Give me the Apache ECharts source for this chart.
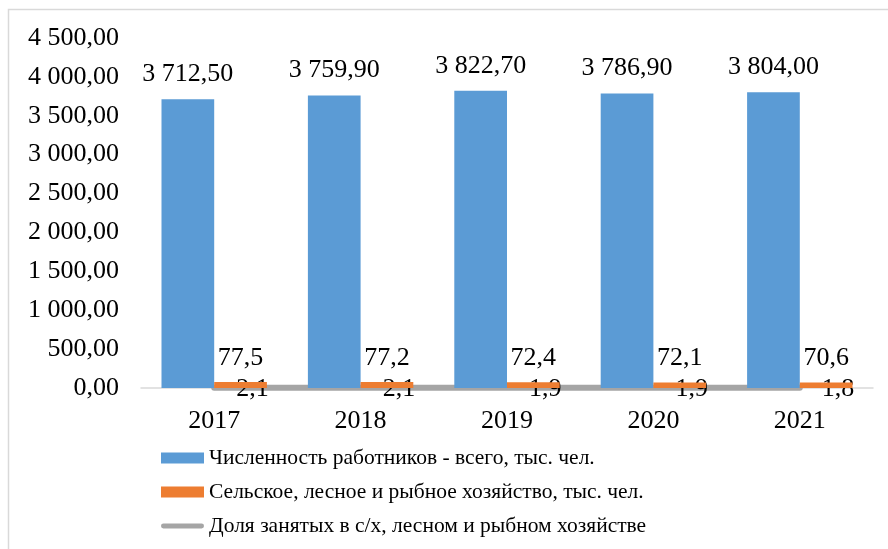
<!DOCTYPE html>
<html>
<head>
<meta charset="utf-8">
<script src="https://cdn.jsdelivr.net/npm/echarts@6/dist/echarts.min.js"></script>
<style>
  html, body { margin: 0; padding: 0; background: #fff; }
  #chart { width: 888px; height: 549px; }
</style>
</head>
<body>
<div id="chart"></div>
<script>
const years = ['2017', '2018', '2019', '2020', '2021']
const totalWorkers = [3712.5, 3759.9, 3822.7, 3786.9, 3804.0]
const agriWorkers = [77.5, 77.2, 72.4, 72.1, 70.6]
const agriShare = [2.1, 2.1, 1.9, 1.9, 1.8]

const names = [
  'Численность работников - всего, тыс. чел.',
  'Сельское, лесное и рыбное хозяйство, тыс. чел.',
  'Доля занятых в с/х, лесном и рыбном хозяйстве'
]

const font = 'Liberation Serif, Times New Roman, serif'

// формат "3 712,50"
function fmt(v, digits) {
  const parts = v.toFixed(digits).split('.')
  parts[0] = parts[0].replace(/\B(?=(\d{3})+(?!\d))/g, ' ')
  return parts.join(',')
}

const myChart = echarts.init(document.getElementById('chart'))

myChart.setOption({
  animation: false,
  textStyle: { fontFamily: font, color: '#000' },
  graphic: [
    {
      type: 'rect',
      shape: { x: 8.5, y: 9.5, width: 1000, height: 1000 },
      style: { fill: 'none', stroke: '#d9d9d9', lineWidth: 1.5 },
      silent: true
    }
  ],
  grid: { left: 141, right: 15, top: 38, bottom: 161 },
  legend: {
    orient: 'vertical',
    left: 156,
    top: 440,
    itemWidth: 43,
    itemHeight: 11,
    itemGap: 8,
    textStyle: { fontFamily: font, fontSize: 21.5, lineHeight: 26, color: '#000' },
    data: [
      { name: names[0], icon: 'rect' },
      { name: names[1], icon: 'rect' },
      // толстая серая линия вместо значка с точкой
      { name: names[2], icon: 'path://M0,0 L0.01,0 M2,3 L41,3 A2.5,2.5 0 0 1 41,8 L2,8 A2.5,2.5 0 0 1 2,3 Z M0,11 L0.01,11' }
    ]
  },
  xAxis: {
    type: 'category',
    data: years,
    axisLine: { lineStyle: { color: '#d9d9d9', width: 1.5 } },
    axisTick: { show: false },
    axisLabel: { fontSize: 26, color: '#000', margin: 20, fontFamily: font }
  },
  yAxis: {
    type: 'value',
    min: 0,
    max: 4500,
    interval: 500,
    splitLine: { show: false },
    axisLine: { show: false },
    axisTick: { show: false },
    axisLabel: {
      fontSize: 26,
      color: '#000',
      margin: 22,
      fontFamily: font,
      formatter: v => fmt(v, 2)
    }
  },
  series: [
    {
      name: names[0],
      type: 'bar',
      data: totalWorkers,
      barWidth: '36%',
      barGap: '0%',
      itemStyle: { color: '#5b9bd5' },
      label: {
        show: true,
        position: 'top',
        distance: 12,
        fontSize: 26,
        color: '#000',
        fontFamily: font,
        formatter: p => fmt(p.value, 2)
      }
    },
    {
      name: names[1],
      type: 'bar',
      data: agriWorkers,
      barWidth: '36%',
      itemStyle: { color: '#ed7d31' },
      label: {
        show: true,
        position: 'top',
        distance: 11,
        fontSize: 26,
        color: '#000',
        fontFamily: font,
        formatter: p => fmt(p.value, 1)
      }
    },
    {
      name: names[2],
      type: 'line',
      data: agriShare,
      symbol: 'circle',
      symbolSize: 0.1,
      z: 1,
      lineStyle: { color: '#a5a5a5', width: 6, cap: 'round' },
      itemStyle: { color: '#a5a5a5' },
      label: {
        show: true,
        position: 'right',
        distance: 22,
        offset: [0, 1],
        fontSize: 26,
        color: '#000',
        fontFamily: font,
        formatter: p => fmt(p.value, 1)
      }
    }
  ]
})
</script>
</body>
</html>
